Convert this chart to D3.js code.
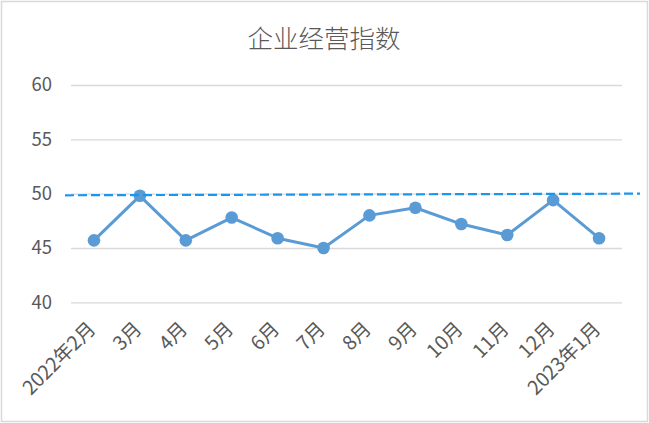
<!DOCTYPE html>
<html><head><meta charset="utf-8">
<script src="https://cdn.jsdelivr.net/npm/d3@7"></script>
<style>html,body{margin:0;padding:0;background:#fff;}svg{display:block;}</style>
</head><body>
<svg id="c" width="649" height="423"></svg>
<script>
const categories = ["2022年2月","3月","4月","5月","6月","7月","8月","9月","10月","11月","12月","2023年1月"];
const values = [45.7, 49.8, 45.7, 47.8, 45.9, 45.0, 48.0, 48.7, 47.2, 46.2, 49.4, 45.9];
const yTicks = [40, 45, 50, 55, 60];
const refLine = [49.85, 50.0];
const title = "企业经营指数";

(function(){
const svg = d3.select("#c");
const W = 649, H = 423;
const font = "'Noto Sans CJK SC','Microsoft YaHei',sans-serif";
svg.append("rect").attr("x",1.5).attr("y",1.5).attr("width",W-3).attr("height",H-3)
  .attr("fill","#fff").attr("stroke","#d9d9d9").attr("stroke-width",1.5);

const pLeft = 71, pRight = 622, pTop = 85, pBottom = 302.3;
const x = d3.scaleBand().domain(categories).range([pLeft, pRight]);
const y = d3.scaleLinear().domain([40, 60]).range([pBottom, pTop]);

svg.append("text").attr("x", 324).attr("y", 48).attr("text-anchor","middle")
  .attr("font-family", font).attr("font-size", 25.5).attr("font-weight", 300)
  .attr("fill","#595959").text(title);

const ya = svg.append("g").attr("transform",`translate(${pLeft},0)`)
  .call(d3.axisLeft(y).tickValues(yTicks).tickSize(-(pRight-pLeft)).tickPadding(19).tickFormat(d3.format("d")));
ya.select(".domain").remove();
ya.selectAll(".tick line").attr("stroke","#d9d9d9").attr("stroke-width",1.3);
ya.selectAll(".tick text").attr("font-family", font).attr("font-size",18.5).attr("fill","#595959");

const xa = svg.append("g").attr("transform",`translate(0,${pBottom})`)
  .call(d3.axisBottom(x).tickSize(0).tickPadding(0));
xa.select(".domain").remove();
xa.selectAll(".tick text")
  .attr("font-family", font).attr("font-size",19.5).attr("fill","#595959")
  .attr("text-anchor","end").attr("dy","0.35em")
  .attr("transform","translate(-2,23) rotate(-45)");

const cx = d => x(d) + x.bandwidth()/2;
const line = d3.line().x((d,i)=>cx(categories[i])).y(d=>y(d));
svg.append("path").datum(values).attr("d", line).attr("fill","none")
  .attr("stroke","#5b9bd5").attr("stroke-width",3).attr("stroke-linejoin","round");

svg.selectAll("circle.pt").data(values).enter().append("circle").attr("class","pt")
  .attr("cx",(d,i)=>cx(categories[i])).attr("cy",d=>y(d)).attr("r",6.3).attr("fill","#5b9bd5");

svg.append("line").attr("x1",65).attr("x2",640).attr("y1",y(refLine[0])).attr("y2",y(refLine[1]))
  .attr("stroke","#1a96ee").attr("stroke-width",2.2).attr("stroke-dasharray","9,4");
})();
</script>
</body></html>
